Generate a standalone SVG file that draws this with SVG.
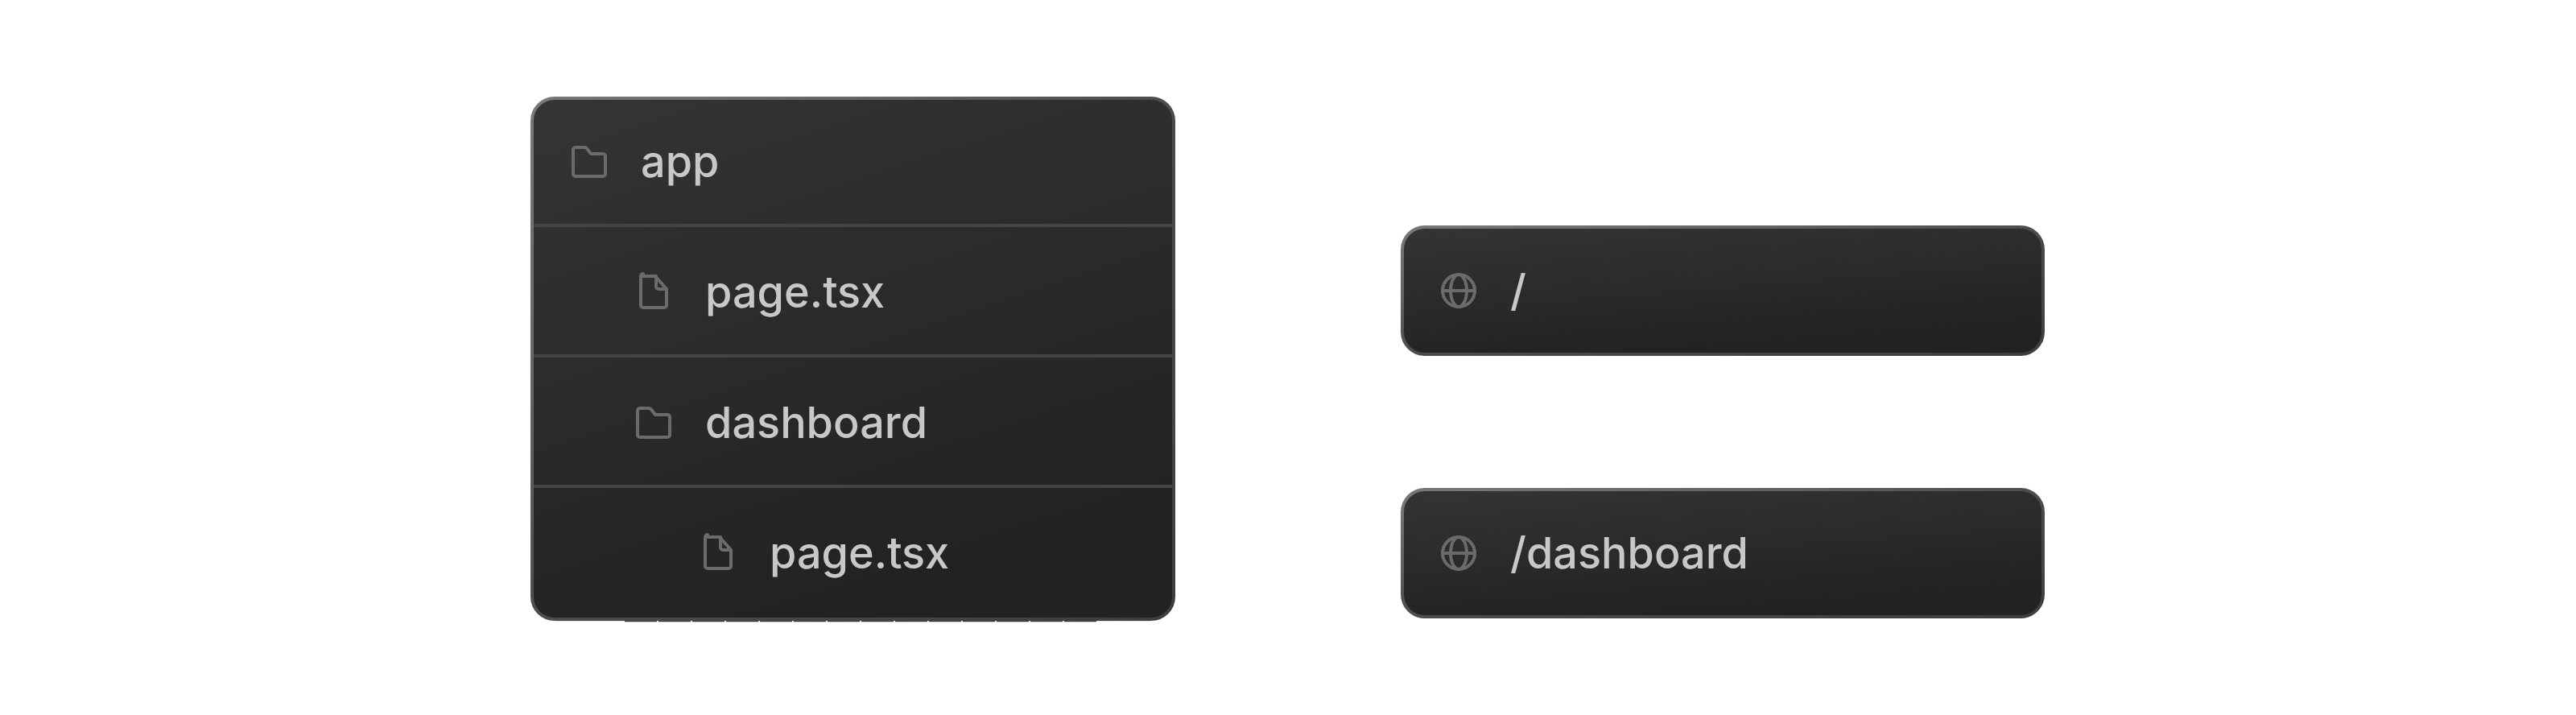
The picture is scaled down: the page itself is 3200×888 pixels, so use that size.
<svg xmlns="http://www.w3.org/2000/svg" width="3200" height="888" viewBox="0 0 3200 888">
<style>
text{font-family:Inter,"Liberation Sans",sans-serif;font-size:54px;font-weight:500;fill:#c8c8c8}
.ic{fill:none;stroke:#6b6b6b;stroke-width:4;stroke-linejoin:round;stroke-linecap:round}
.div{stroke:#444;stroke-width:4}
</style>
<defs>
<linearGradient id="f" x1="0" y1="0" x2="0.4" y2="1"><stop offset="0" stop-color="#343434"/><stop offset="1" stop-color="#222"/></linearGradient>
<linearGradient id="s" x1="0" y1="0" x2="1" y2="1"><stop offset="0" stop-color="#787878"/><stop offset="0.25" stop-color="#666"/><stop offset="0.5" stop-color="#4c4c4c"/><stop offset="1" stop-color="#3e3e3e"/></linearGradient>
<g id="folder"><path class="ic" d="M712 186a3 3 0 0 1 3-3h11a4 4 0 0 1 3 1.500l5 6.500h15a3 3 0 0 1 3 3v22a3 3 0 0 1-3 3h-34a3 3 0 0 1-3-3z"/></g>
<g id="file"><path class="ic" d="M799 343h15l14 16v20a3 3 0 0 1-3 3h-26a3 3 0 0 1-3-3v-36a3 3 0 0 1 3-3z M815 343v13a3 3 0 0 0 3 3h10"/></g>
<g id="globe"><circle class="ic" cx="1812" cy="361" r="20"/><ellipse class="ic" cx="1812" cy="361" rx="10" ry="20"/><path class="ic" d="M1792 361h40"/></g>
</defs>
<rect width="3200" height="888" fill="#fff"/>
<g id="connectors"/>
<g id="tree">
<path d="M690 770.500H1430" stroke="#999" stroke-width="1.500"/>
<path d="M775 771H1362" stroke="#333" stroke-width="2.500" stroke-dasharray="40 2" stroke-dashoffset="-1"/>
<rect x="661" y="122" width="797" height="647" rx="28" fill="url(#f)" stroke="url(#s)" stroke-width="4"/>
<path class="div" d="M663 280H1456M663 442H1456M663 604H1456"/>
</g>
<g id="row-app"><use href="#folder"/><text x="796" y="220">app</text></g>
<g id="row-page"><use href="#file"/><text x="876" y="382">page.tsx</text></g>
<g id="row-dashboard"><use href="#folder" x="80" y="324"/><text x="876" y="544">dashboard</text></g>
<g id="row-dashboard-page"><use href="#file" x="80" y="324"/><text x="956" y="706">page.tsx</text></g>
<g id="route-root">
<rect x="1742" y="282" width="796" height="158" rx="28" fill="url(#f)" stroke="url(#s)" stroke-width="4"/>
<use href="#globe"/><text x="1876" y="380">/</text>
</g>
<g id="route-dashboard">
<rect x="1742" y="608" width="796" height="158" rx="28" fill="url(#f)" stroke="url(#s)" stroke-width="4"/>
<use href="#globe" y="326"/><text x="1876" y="706">/dashboard</text>
</g>
</svg>
